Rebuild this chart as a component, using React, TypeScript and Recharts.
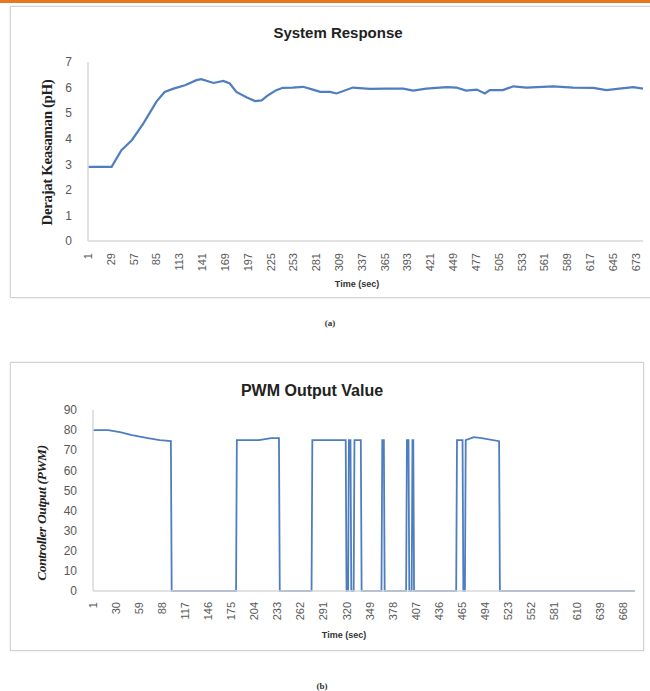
import React from 'react';
import { LineChart, Line, XAxis, YAxis } from 'recharts';

// pH response (time in s, pH)
const phTime = [1, 30, 42, 55, 69, 85, 95, 106, 120, 134, 140, 155, 167, 175, 183, 196, 206, 214, 222, 232, 240, 252, 265, 277, 286, 298, 306, 326, 347, 367, 388, 400, 416, 441, 453, 465, 478, 488, 494, 510, 523, 539, 572, 596, 621, 637, 653, 670, 682];
const phValue = [2.9, 2.9, 3.55, 3.95, 4.6, 5.45, 5.83, 5.96, 6.09, 6.29, 6.33, 6.18, 6.26, 6.16, 5.83, 5.61, 5.47, 5.5, 5.7, 5.9, 5.99, 6.0, 6.03, 5.92, 5.83, 5.83, 5.77, 6.0, 5.95, 5.96, 5.96, 5.88, 5.96, 6.02, 6.0, 5.88, 5.92, 5.77, 5.9, 5.9, 6.05, 6.0, 6.05, 6.0, 5.99, 5.9, 5.96, 6.02, 5.96];
const phTicks = [1, 29, 57, 85, 113, 141, 169, 197, 225, 253, 281, 309, 337, 365, 393, 421, 449, 477, 505, 533, 561, 589, 617, 645, 673];
const phYTicks = [0, 1, 2, 3, 4, 5, 6, 7];

// PWM output (time in s, PWM)
const pwmTime = [1, 20, 35, 50, 70, 85, 99, 100, 181, 182, 210, 225, 235, 236, 276, 277, 319, 320, 322, 323, 325, 326, 329, 330, 338, 339, 364, 365, 367, 368, 395, 396, 398, 399, 402, 403, 404, 405, 458, 459, 466, 467, 469, 470, 480, 490, 512, 513, 683];
const pwmValue = [80, 80, 79, 77.5, 76, 75, 74.5, 0, 0, 75, 75, 76, 76, 0, 0, 75, 75, 0, 0, 75, 75, 0, 0, 75, 75, 0, 0, 75, 75, 0, 0, 75, 75, 0, 0, 75, 75, 0, 0, 75, 75, 0, 0, 75, 76.5, 76, 74.5, 0, 0];
const pwmTicks = [1, 30, 59, 88, 117, 146, 175, 204, 233, 262, 291, 320, 349, 378, 407, 436, 465, 494, 523, 552, 581, 610, 639, 668];
const pwmYTicks = [0, 10, 20, 30, 40, 50, 60, 70, 80, 90];

const phData = phTime.map((t, i) => ({ t, v: phValue[i] }));
const pwmData = pwmTime.map((t, i) => ({ t, v: pwmValue[i] }));

const LINE = '#4F7EC0';
const AXIS = '#D9D9D9';
const TICK = '#595959';

const RotTick = (props: any) => {
  const { x, y, payload } = props;
  return (
    <text
      x={x}
      y={y}
      transform={`rotate(-90, ${x}, ${y})`}
      textAnchor="end"
      dominantBaseline="central"
      fontSize={11}
      fill={TICK}
      fontFamily="Liberation Sans, sans-serif"
    >
      {payload.value}
    </text>
  );
};

const abs = (left: number, top: number, extra: React.CSSProperties = {}): React.CSSProperties => ({
  position: 'absolute',
  left,
  top,
  ...extra,
});

const box: React.CSSProperties = {
  border: '1px solid #D2D2D2',
  boxShadow: '0 0 2px rgba(0,0,0,0.12)',
  background: '#fff',
};

export default function App() {
  return (
    <div style={abs(0, 0, { width: 650, height: 691, background: '#fff', overflow: 'hidden', fontFamily: 'Liberation Sans, sans-serif' })}>
      <div style={abs(0, 0, { width: 650, height: 3, background: '#E8781E' })} />

      {/* (a) system response */}
      <div style={abs(10, 6, { width: 650, height: 290, ...box })} />
      <div style={abs(238, 24, { width: 200, textAlign: 'center', fontSize: 15, fontWeight: 'bold', color: '#222' })}>
        System Response
      </div>
      <div style={abs(10, 6)}>
        <LineChart width={638} height={291} data={phData} margin={{ top: 56, right: 5, bottom: 16, left: 38 }}>
          <XAxis
            dataKey="t"
            type="number"
            domain={[1, 682]}
            ticks={phTicks}
            interval={0}
            stroke={AXIS}
            strokeWidth={1.5}
            tickLine={false}
            tick={<RotTick />}
            tickMargin={6}
            height={40}
          />
          <YAxis
            type="number"
            domain={[0, 7]}
            ticks={phYTicks}
            interval={0}
            stroke={AXIS}
            strokeWidth={1.5}
            tickLine={false}
            tickSize={0}
            tickMargin={16}
            tick={{ fill: TICK, fontSize: 12 }}
            width={40}
          />
          <Line type="linear" dataKey="v" stroke={LINE} strokeWidth={2.2} dot={false} isAnimationActive={false} />
        </LineChart>
      </div>
      <div style={abs(-43, 144, { width: 180, textAlign: 'center', transform: 'rotate(-90deg)', fontFamily: 'Liberation Serif, serif', fontWeight: 'bold', fontSize: 15, color: '#222', letterSpacing: -0.4 })}>
        Derajat Keasaman (pH)
      </div>
      <div style={abs(317, 279, { width: 80, textAlign: 'center', fontSize: 9, fontWeight: 'bold', color: '#333' })}>
        Time (sec)
      </div>
      <div style={abs(315, 318, { width: 30, textAlign: 'center', fontFamily: 'Liberation Serif, serif', fontSize: 9, fontWeight: 'bold', color: '#333' })}>
        (a)
      </div>

      {/* (b) PWM output */}
      <div style={abs(10, 362, { width: 632, height: 287, ...box })} />
      <div style={abs(212, 382, { width: 200, textAlign: 'center', fontSize: 16, fontWeight: 'bold', color: '#222' })}>
        PWM Output Value
      </div>
      <div style={abs(10, 372)}>
        <LineChart width={632} height={278} data={pwmData} margin={{ top: 38, right: 7, bottom: 19, left: 38 }}>
          <XAxis
            dataKey="t"
            type="number"
            domain={[1, 683]}
            ticks={pwmTicks}
            interval={0}
            stroke={AXIS}
            strokeWidth={1.5}
            tickLine={false}
            tick={<RotTick />}
            tickMargin={5}
            height={40}
          />
          <YAxis
            type="number"
            domain={[0, 90]}
            ticks={pwmYTicks}
            interval={0}
            stroke={AXIS}
            strokeWidth={1.5}
            tickLine={false}
            tickSize={0}
            tickMargin={16}
            tick={{ fill: TICK, fontSize: 12 }}
            width={45}
          />
          <Line type="linear" dataKey="v" stroke={LINE} strokeWidth={1.8} dot={false} isAnimationActive={false} />
        </LineChart>
      </div>
      <div style={abs(-43, 505, { width: 170, textAlign: 'center', transform: 'rotate(-90deg)', fontFamily: 'Liberation Serif, serif', fontWeight: 'bold', fontStyle: 'italic', fontSize: 13.5, color: '#222', letterSpacing: -0.4 })}>
        Controller Output (PWM)
      </div>
      <div style={abs(304, 630, { width: 80, textAlign: 'center', fontSize: 9, fontWeight: 'bold', color: '#333' })}>
        Time (sec)
      </div>
      <div style={abs(307, 681, { width: 30, textAlign: 'center', fontFamily: 'Liberation Serif, serif', fontSize: 9, fontWeight: 'bold', color: '#333' })}>
        (b)
      </div>
    </div>
  );
}
